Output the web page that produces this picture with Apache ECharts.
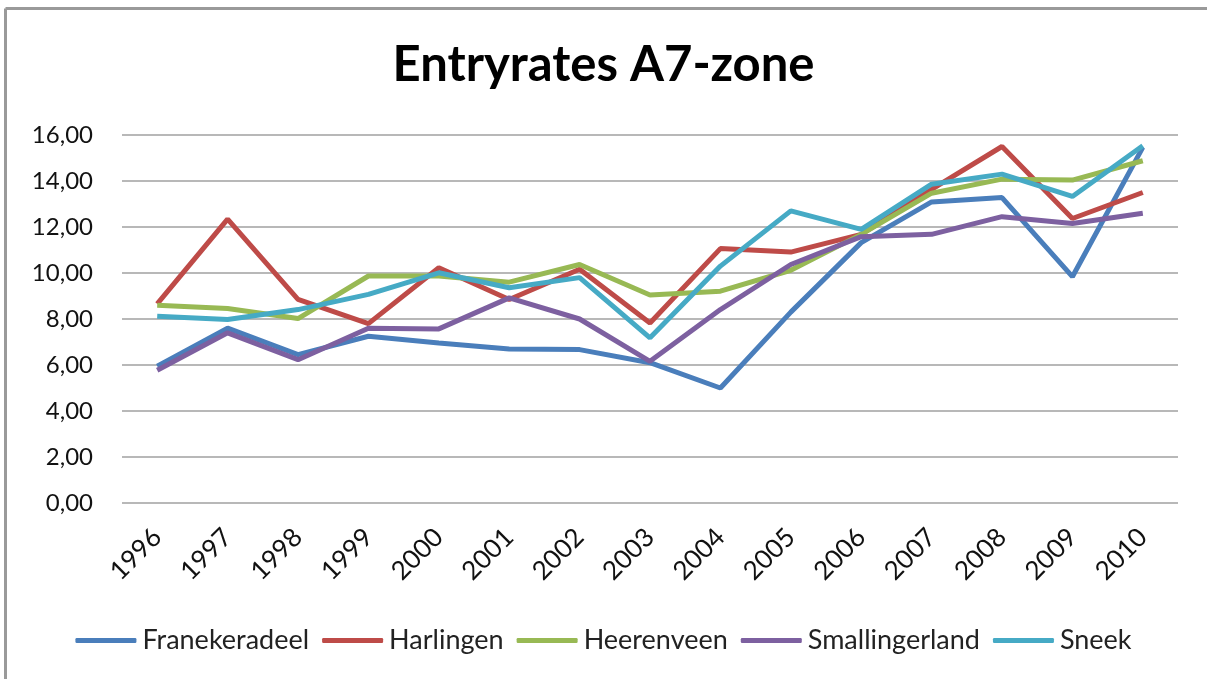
<!DOCTYPE html>
<html>
<head>
<meta charset="utf-8">
<script src="https://cdn.jsdelivr.net/npm/echarts@6/dist/echarts.min.js"></script>
<style>
  html, body { margin: 0; padding: 0; background: #fff; }
  #chart { width: 1207px; height: 679px; }
</style>
</head>
<body>
<div id="chart"></div>
<script>
var years = ['1996', '1997', '1998', '1999', '2000', '2001', '2002', '2003', '2004', '2005', '2006', '2007', '2008', '2009', '2010'];
var franekeradeel = [5.95, 7.6, 6.45, 7.25, 6.96, 6.7, 6.67, 6.1, 5.0, 8.3, 11.32, 13.09, 13.28, 9.84, 15.46];
var harlingen = [8.66, 12.34, 8.85, 7.8, 10.23, 8.85, 10.16, 7.83, 11.06, 10.91, 11.68, 13.64, 15.5, 12.37, 13.5];
var heerenveen = [8.6, 8.46, 8.02, 9.87, 9.87, 9.6, 10.37, 9.04, 9.21, 10.12, 11.68, 13.47, 14.08, 14.04, 14.88];
var smallingerland = [5.77, 7.4, 6.23, 7.6, 7.57, 8.92, 8.0, 6.16, 8.41, 10.37, 11.58, 11.68, 12.45, 12.15, 12.6];
var sneek = [8.12, 7.98, 8.41, 9.07, 10.01, 9.36, 9.8, 7.18, 10.3, 12.7, 11.9, 13.86, 14.3, 13.33, 15.53];
var yTicks = [0, 2, 4, 6, 8, 10, 12, 14, 16];

var font = 'Lato, "Open Sans", sans-serif';

function line(name, data, color) {
  return {
    name: name,
    type: 'line',
    data: data,
    symbol: 'none',
    lineStyle: { color: color, width: 5 },
    itemStyle: { color: color }
  };
}

var chart = echarts.init(document.getElementById('chart'));

chart.setOption({
  backgroundColor: '#fff',
  animation: false,
  textStyle: { fontFamily: font },
  // frame of the chart area (only top and left edges are visible in the crop)
  graphic: [
    { type: 'line', shape: { x1: 5.5, y1: 8.5, x2: 1207, y2: 8.5 }, style: { stroke: '#9a9a9a', lineWidth: 3 }, silent: true },
    { type: 'line', shape: { x1: 5.5, y1: 8.5, x2: 5.5, y2: 679 }, style: { stroke: '#9a9a9a', lineWidth: 3 }, silent: true }
  ],
  title: {
    text: 'Entryrates A7-zone',
    left: 'center',
    top: 36,
    textStyle: { fontFamily: font, fontSize: 49, fontWeight: 'bold', color: '#000' }
  },
  grid: { left: 122, right: 29, top: 135, bottom: 176 },
  legend: {
    bottom: 20,
    left: 'center',
    itemWidth: 61,
    itemHeight: 5,
    itemGap: 13,
    icon: 'roundRect',
    textStyle: { fontFamily: font, fontSize: 27, color: '#222', padding: [0, 0, 0, 1] },
    data: ['Franekeradeel', 'Harlingen', 'Heerenveen', 'Smallingerland', 'Sneek']
  },
  xAxis: {
    type: 'category',
    data: years,
    boundaryGap: true,
    axisLine: { show: false },
    axisTick: { show: false },
    axisLabel: { rotate: 45, fontSize: 26, color: '#111', margin: 30, fontFamily: font }
  },
  yAxis: {
    type: 'value',
    min: 0,
    max: 16,
    interval: 2,
    axisLine: { show: false },
    axisTick: { show: false },
    splitLine: { lineStyle: { color: '#a0a0a0', width: 1.5 } },
    axisLabel: {
      fontSize: 24,
      color: '#111',
      margin: 29,
      fontFamily: font,
      formatter: function (v) { return yTicks.indexOf(v) >= 0 ? v.toFixed(2).replace('.', ',') : ''; }
    }
  },
  series: [
    line('Franekeradeel', franekeradeel, '#4A7EBB'),
    line('Harlingen', harlingen, '#BE4B48'),
    line('Heerenveen', heerenveen, '#98B954'),
    line('Smallingerland', smallingerland, '#7D60A0'),
    line('Sneek', sneek, '#46AAC5')
  ]
});
</script>
</body>
</html>
